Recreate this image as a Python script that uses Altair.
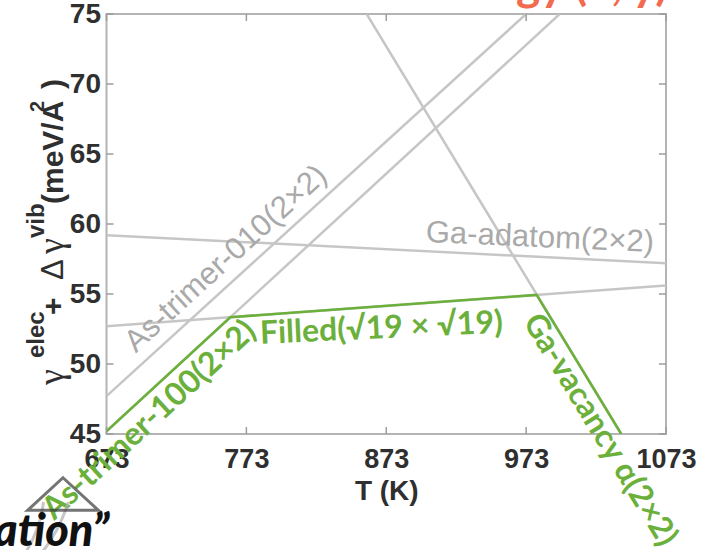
import altair as alt
import pandas as pd

# ---- data ----
T_ticks = [673, 773, 873, 973, 1073]
G_ticks = [45, 50, 55, 60, 65, 70, 75]

# gray phase lines (T in K, surface energy in meV/A^2)
t_010 = [673, 973];   g_010 = [47.7, 75.0]      # As-trimer-010(2x2)
t_100 = [673, 997];   g_100 = [45.2, 75.0]      # As-trimer-100(2x2)
t_filled = [673, 1073]; g_filled = [52.7, 55.6]  # Filled(sqrt19 x sqrt19)
t_adatom = [673, 1073]; g_adatom = [59.2, 57.2]  # Ga-adatom(2x2)
t_vac = [859, 1041];  g_vac = [75.0, 45.0]      # Ga-vacancy alpha(2x2)

# green lowest-energy envelope
t_env = [673, 761.5, 980.5, 1041]
g_env = [45.2, 53.34, 54.94, 45.0]

gray_names = ["As-trimer-010", "As-trimer-100", "Filled", "Ga-adatom", "Ga-vacancy"]
gray_t = [t_010, t_100, t_filled, t_adatom, t_vac]
gray_g = [g_010, g_100, g_filled, g_adatom, g_vac]

gray_label_text = ["As-trimer-010(2×2)", "Ga-adatom(2×2)"]
gray_label_T = [758.5, 982.9]
gray_label_g = [57.5, 59.0]
gray_label_angle = [317.7, 2.5]

green_label_text = ["As-trimer-100(2×2)", "Filled(√19 × √19)", "Ga-vacancy α(2×2)"]
green_label_T = [703.5, 869.5, 1026.0]
green_label_g = [46.0, 52.55, 45.3]
green_label_angle = [317.4, 357.4, 58.6]

# y-axis title pieces: text, font, size, weight, is_superscript
title_pieces = [
    ("γ", "Liberation Serif", 36, "normal", False),
    ("elec", "Liberation Sans", 24, "bold", True),
    ("+", "Liberation Sans", 30, "bold", False),
    ("Δ", "Liberation Sans", 31, "normal", False),
    ("γ", "Liberation Serif", 36, "normal", False),
    ("vib", "Liberation Sans", 24, "bold", True),
    ("(meV/A", "Liberation Sans", 30, "bold", False),
    ("2", "Liberation Sans", 20, "bold", True),
    (")", "Liberation Sans", 30, "bold", False),
]
title_piece_start_y = [385, 358, 315, 280, 254, 238, 204, 112, 89]

# ---- build tables ----
rows = []
for name, ts, gs in zip(gray_names, gray_t, gray_g):
    for t, g in zip(ts, gs):
        rows.append({"series": name, "T": t, "g": g})
gray_df = pd.DataFrame(rows)
env_df = pd.DataFrame({"T": t_env, "g": g_env})
gl_df = pd.DataFrame({"text": gray_label_text, "T": gray_label_T, "g": gray_label_g, "angle": gray_label_angle})
nl_df = pd.DataFrame({"text": green_label_text, "T": green_label_T, "g": green_label_g, "angle": green_label_angle})
xt_df = pd.DataFrame({"T": T_ticks})
yt_df = pd.DataFrame({"g": G_ticks})

W, H = 559.5, 420
PL, PT = 106.5, 14
GRAY = "#c6c6c6"
GREEN = "#6cb03c"
FRAME = "#b4b4b4"
TXT = "#2f2f2f"

x_scale = alt.Scale(domain=[673, 1073], nice=False, zero=False)
y_scale = alt.Scale(domain=[45, 75], nice=False, zero=False)

x_axis = alt.Axis(values=T_ticks, title="T (K)", tickSize=0, domain=False, grid=False,
                  labelFont="Liberation Sans", labelFontWeight="bold", labelFontSize=27,
                  labelColor=TXT, labelPadding=12, labelFlush=False, labelOverlap=False,
                  format="d",
                  titleFont="Liberation Sans", titleFontWeight="bold", titleFontSize=28,
                  titleColor=TXT, titlePadding=5)
y_axis = alt.Axis(values=G_ticks, title="", tickSize=0, domain=False, grid=False,
                  labelFont="Liberation Sans", labelFontWeight="bold", labelFontSize=28,
                  labelColor=TXT, labelPadding=6, labelFlush=False, labelOverlap=False)

X = alt.X("T:Q", scale=x_scale, axis=x_axis)
Y = alt.Y("g:Q", scale=y_scale, axis=y_axis)

gray_lines = alt.Chart(gray_df).mark_line(color=GRAY, strokeWidth=2.5, clip=True).encode(
    x=X, y=Y, detail="series:N")
green_line = alt.Chart(env_df).mark_line(color=GREEN, strokeWidth=2.6, clip=True).encode(
    x=alt.X("T:Q", scale=x_scale), y=alt.Y("g:Q", scale=y_scale))

tick_col = "#9c9c9c"
xt_bottom = alt.Chart(xt_df).mark_rule(color=tick_col, strokeWidth=1.5).encode(
    x=alt.X("T:Q", scale=x_scale), y=alt.value(H), y2=alt.value(H - 7))
xt_top = alt.Chart(xt_df).mark_rule(color=tick_col, strokeWidth=1.5).encode(
    x=alt.X("T:Q", scale=x_scale), y=alt.value(0), y2=alt.value(7))
yt_left = alt.Chart(yt_df).mark_rule(color=tick_col, strokeWidth=1.5).encode(
    y=alt.Y("g:Q", scale=y_scale), x=alt.value(0), x2=alt.value(7))
yt_right = alt.Chart(yt_df).mark_rule(color=tick_col, strokeWidth=1.5).encode(
    y=alt.Y("g:Q", scale=y_scale), x=alt.value(W), x2=alt.value(W - 7))

gray_labels = alt.Chart(gl_df).mark_text(font="Liberation Sans", fontSize=31, color="#a9a9a9",
                                        align="center", baseline="middle").encode(
    x=alt.X("T:Q", scale=x_scale), y=alt.Y("g:Q", scale=y_scale),
    text="text:N", angle=alt.Angle("angle:Q", scale=None))
green_labels = alt.Chart(nl_df).mark_text(font="Lato", fontWeight="bold", fontSize=32, color=GREEN,
                                         align="center", baseline="middle").encode(
    x=alt.X("T:Q", scale=x_scale), y=alt.Y("g:Q", scale=y_scale),
    text="text:N", angle=alt.Angle("angle:Q", scale=None))

ann_df = pd.DataFrame({"k": [0]})

# rotated y-axis title built from pieces (superscripts raised)
title_layers = []
for (txt, font, size, weight, sup), sy in zip(title_pieces, title_piece_start_y):
    bx = 44 if sup else 63
    title_layers.append(
        alt.Chart(ann_df).mark_text(font=font, fontSize=size, fontWeight=weight, color=TXT,
                                    align="left", baseline="alphabetic", angle=270).encode(
            x=alt.value(bx - PL), y=alt.value(sy - PT), text=alt.value(txt)))

# slide fragments around the chart
red_text = alt.Chart(ann_df).mark_text(font="Lato", fontWeight="bold", fontSize=46, color="#f26b50",
                                      align="right", baseline="alphabetic").encode(
    x=alt.value(668 - PL), y=alt.value(0 - PT), text=alt.value("Lowest energy (x, y)"))
bottom_text = alt.Chart(ann_df).mark_text(font="Lato", fontWeight=900, fontStyle="italic", fontSize=45,
                                         color="#111111", align="left", baseline="alphabetic").encode(
    x=alt.value(-6 - PL), y=alt.value(546 - PT), text=alt.value("ation”"))
arrow_head = alt.Chart(ann_df).mark_point(shape="M0,-0.46L1,0.46L-1,0.46Z", filled=False,
                                         stroke="#3a3a3a", strokeWidth=3, size=5000).encode(
    x=alt.value(63 - PL), y=alt.value(494 - PT))
arrow_shaft = alt.Chart(ann_df).mark_point(shape="M-0.5,-1Q-0.65,0.1-1.2,1M0.5,-1Q0.1,0.2-0.55,1", filled=False,
                                          stroke="#b0b0b0", strokeWidth=3, size=2500).encode(
    x=alt.value(56 - PL), y=alt.value(527 - PT))

chart = alt.layer(
    gray_lines, green_line, xt_bottom, xt_top, yt_left, yt_right,
    gray_labels, green_labels, red_text, arrow_shaft, arrow_head, bottom_text, *title_layers
).properties(
    width=W, height=H,
    autosize=alt.AutoSizeParams(type="none"),
    padding={"left": PL, "top": PT, "right": 704 - 666, "bottom": 550 - 434},
    background="white",
).configure_view(stroke=FRAME, strokeWidth=2)

chart.save("out.html", embed_options={"renderer": "svg", "actions": False})
